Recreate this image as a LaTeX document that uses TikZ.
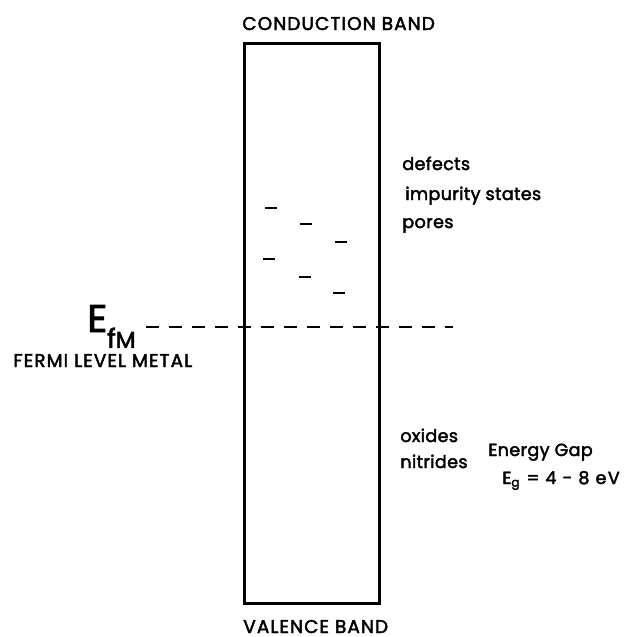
\documentclass[tikz,border=0pt]{standalone}
\usepackage{fontspec}
\setmainfont{Poppins}
\newfontfamily\capsfont{Poppins}[FakeBold=2.4,LetterSpace=6]
\newfontfamily\notefont{Poppins}[FakeBold=2.4,LetterSpace=2]
\newfontfamily\widefont{Poppins}[FakeBold=2.4,LetterSpace=8]
\newfontfamily\symfont{Poppins}[FakeBold=2.4]
\usetikzlibrary{positioning}
\tikzset{
  % band box
  gapbox/.style={draw,line width=1.7pt,minimum width=2.70cm,minimum height=11.2cm,inner sep=0pt},
  % text styles
  capt/.style={font=\capsfont\fontsize{10.5}{12}\selectfont,inner sep=0pt,anchor=base west},
  note/.style={font=\notefont\fontsize{10}{12}\selectfont,inner sep=0pt,anchor=base west},
  lvl/.style={line width=1.4pt},
  fermi/.style={line width=1.6pt,dash pattern=on 0.27cm off 0.19cm}
}
\begin{document}
\begin{tikzpicture}[x=0.02cm,y=-0.02cm]
  \useasboundingbox (0,0) rectangle (627,637);
  \node[gapbox] (gap) at (312,323.5) {};
  \node[capt] (cb) at (242,30) {CONDUCTION BAND};
  \node[capt] (vb) at (243,633) {VALENCE BAND};

  % states in the gap
  \foreach \x/\y in {271/208,306/224,341/242,269/259,305/277,339/293}
    \draw[lvl] (\x-6,\y) -- (\x+6,\y);

  % Fermi level
  \node[inner sep=0pt,anchor=base west] (ef) at (87,332)
    {\symfont\fontsize{22}{24}\selectfont E\raisebox{-9pt}{\fontsize{15}{17}\selectfont f\fontsize{13}{15}\selectfont M}};
  \coordinate (fend) at (453,327);
  \draw[fermi] (146,327) -- (fend);
  \node[capt] (fl) at (13,367) {FERMI LEVEL METAL};

  \node[note] (def) at (402,170) {defects};
  \node[note] (imp) at (405,200) {impurity states};
  \node[note] (por) at (402,228) {pores};

  \node[note] (ox) at (400,442) {oxides};
  \node[note] (ni) at (400,468) {nitrides};
  \node[note] (eg) at (488,456) {Energy Gap};
  \node[note,font=\widefont\fontsize{10}{12}\selectfont] (egv) at (502,484) {E\textsubscript{g} = 4 - 8 eV};
\end{tikzpicture}
\end{document}
